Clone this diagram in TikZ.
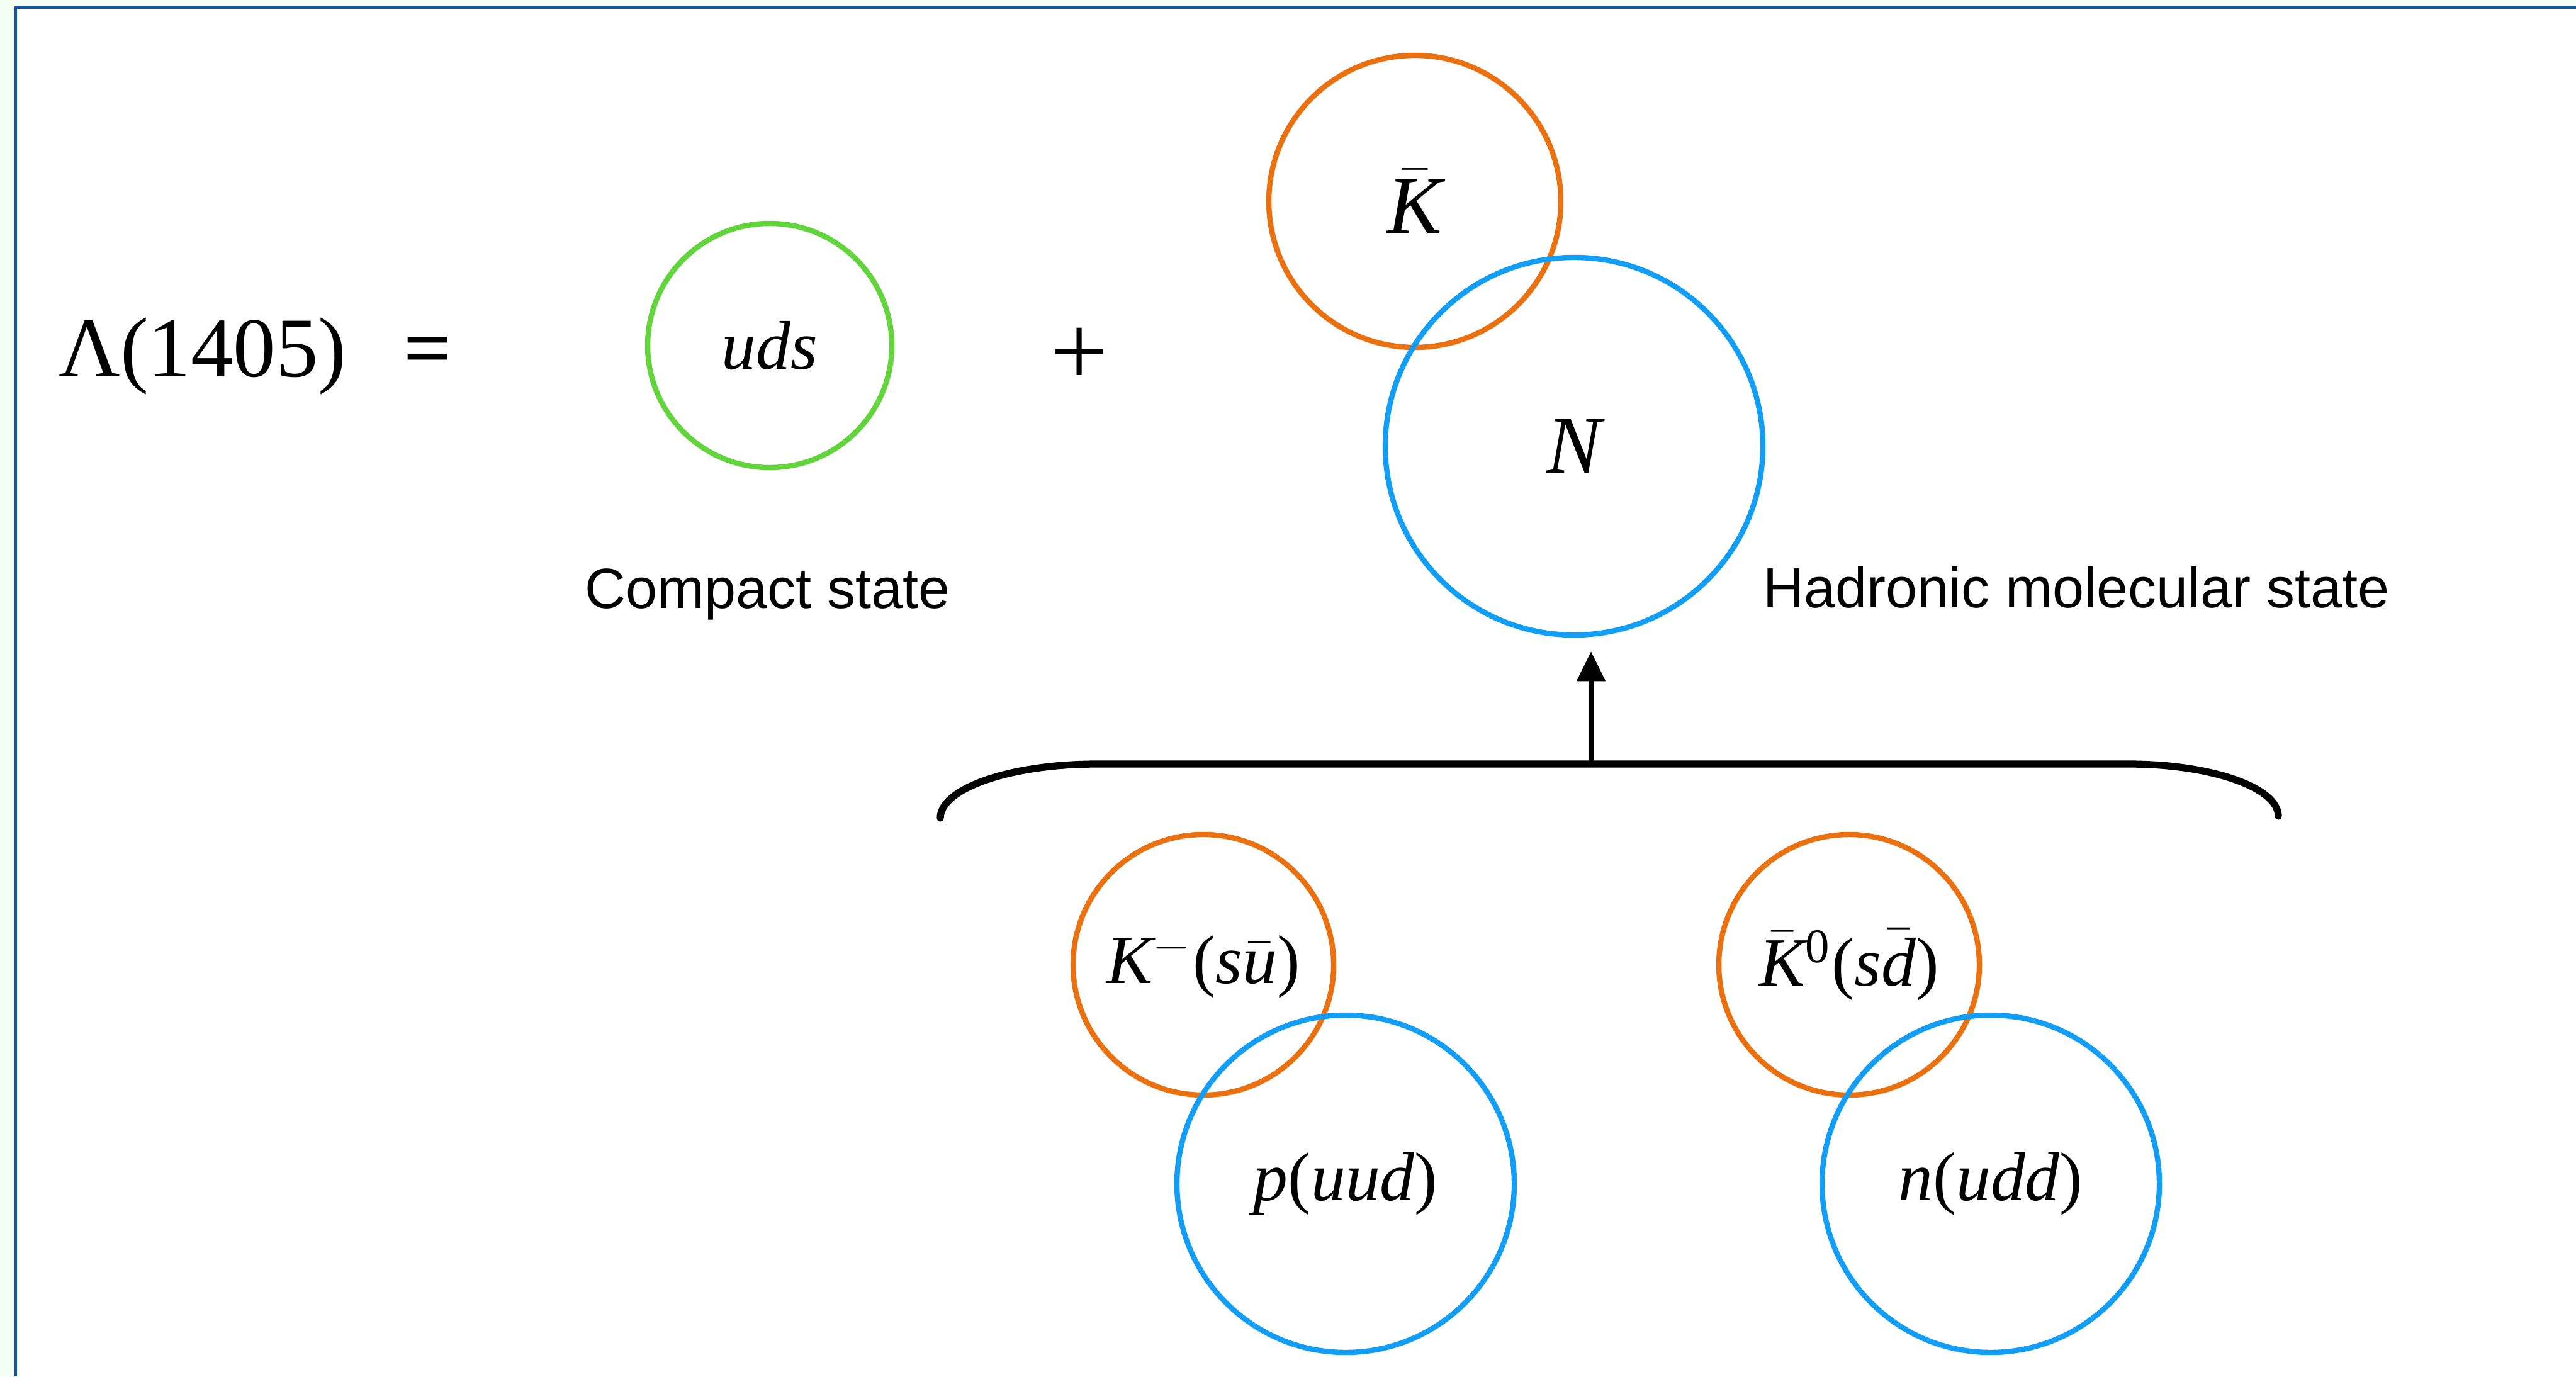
\documentclass[tikz,border=0pt]{standalone}
\usepackage[no-math]{fontspec}
\setmainfont{Liberation Serif}
\setsansfont{Liberation Sans}
\usepackage{tikz}
\usetikzlibrary{arrows.meta,positioning,shapes.geometric,calc}

\definecolor{compactgreen}{RGB}{98,212,60}
\definecolor{kaonorange}{RGB}{234,112,16}
\definecolor{nucleonblue}{RGB}{18,158,246}
\definecolor{frameblue}{RGB}{12,88,165}

\newcommand{\qit}[1]{\mbox{\itshape #1}}
\newcommand{\qbar}[1]{$\bar{\mbox{\itshape #1}}$}

\begin{document}
\begin{tikzpicture}[
      state/.style={circle, inner sep=0pt, line width=1.2pt, text=black},
      compact/.style={state, draw=compactgreen, minimum size=1.94cm},
      kbar/.style={state, draw=kaonorange},
      nucleon/.style={state, draw=nucleonblue},
      big/.style={font=\fontsize{18.5}{22}\selectfont},
      small/.style={font=\fontsize{15.6}{18}\selectfont},
      caption/.style={font=\sffamily\fontsize{12.8}{15}\selectfont, anchor=base},
      eqtext/.style={font=\fontsize{19.2}{23}\selectfont, anchor=base},
      brace/.style={line width=1.6pt, line cap=round},
      arr/.style={line width=1pt, -{Triangle[length=6.7pt,width=6.3pt]}}
    ]
    \useasboundingbox (0,0) rectangle (20.465,10.935);
    % window edge
    \fill[green!5] (0,0) rectangle (0.11,10.935);
    \fill[green!5] (0,10.89) rectangle (20.465,10.935);
    \draw[frameblue, line width=0.45pt] (0.125,0) -- (0.125,10.875) -- (20.465,10.875);

    \node[eqtext] (lam) at (1.61,7.94) {Λ(1405)};
    \node[eqtext] (eq) at (3.40,7.94) {\bfseries =};
    \node[compact, small] (uds) at (6.115,8.19) {\itshape uds};
    \node[caption] (ctext) at (6.10,6.10) {Compact state};
    \node[eqtext, font=\fontsize{23}{26}\selectfont] (plus) at (8.575,7.87) {+};

    \node[kbar, big, minimum size=2.32cm] (K) at (11.24,9.335) {\qbar{K}};
    \node[nucleon, big, minimum size=3.0cm] (N) at (12.505,7.39) {\itshape N};
    \node[caption] (htext) at (16.495,6.105) {Hadronic molecular state};

    % the two charge channels
    \node[kbar, small, minimum size=2.07cm] (Km) at (9.56,3.27)
      {\qit{K}$^{-}$(\qit{s}\qbar{u})};
    \node[nucleon, small, minimum size=2.68cm] (p) at (10.69,1.53)
      {\qit{p}(\qit{uud})};
    \node[kbar, small, minimum size=2.07cm] (K0) at (14.69,3.27)
      {\qbar{K}\textsuperscript{0}(\qit{s}\qbar{d})};
    \node[nucleon, small, minimum size=2.68cm] (n) at (15.815,1.53)
      {\qit{n}(\qit{udd})};

    \coordinate (bl) at (7.47,4.435);
    \coordinate (bt) at (12.64,4.865);
    \draw[brace] (bl) arc[start angle=180, end angle=90, x radius=1.25cm, y radius=0.43cm]
      -- (16.905,4.865) arc[start angle=90, end angle=0, x radius=1.195cm, y radius=0.415cm];
    \draw[arr, shorten >=0.11cm] (bt) -- (bt |- N.south);
\end{tikzpicture}
\end{document}
